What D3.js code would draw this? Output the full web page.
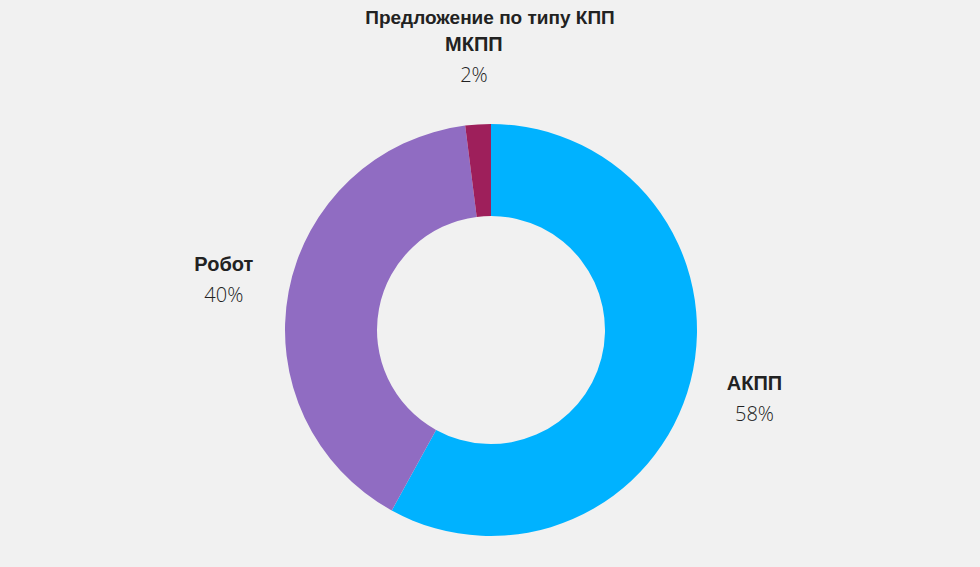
<!DOCTYPE html>
<html><head><meta charset="utf-8">
<script src="https://cdn.jsdelivr.net/npm/d3@7"></script>
<style>body{margin:0;background:#f1f1f1;}</style>
</head><body><div class="canvas"></div>
<script>
const categories = ['АКПП', 'Робот', 'МКПП'];
const shares = [58, 40, 2];
const colours = ['#00b2ff', '#906cc2', '#9e1f5b'];

const dims = { width: 980, height: 567, outer: 206, inner: 114 };
const cent = { x: 491, y: 330 };

const svg = d3.select('.canvas').append('svg')
    .attr('width', dims.width).attr('height', dims.height);

svg.append('text')
    .attr('x', dims.width / 2).attr('y', 24)
    .attr('text-anchor', 'middle')
    .style('font', 'bold 19px "Liberation Sans", Arial, sans-serif')
    .attr('fill', '#222')
    .text('Предложение по типу КПП');

const graph = svg.append('g').attr('transform', `translate(${cent.x}, ${cent.y})`);

const data = categories.map((name, i) => ({ name, value: shares[i] }));
const pie = d3.pie().sort(null).value(d => d.value);
const arcPath = d3.arc().outerRadius(dims.outer).innerRadius(dims.inner);
const labelArc = d3.arc().outerRadius(272).innerRadius(272);
const colour = d3.scaleOrdinal().domain(categories).range(colours);

graph.selectAll('path').data(pie(data)).enter()
    .append('path')
    .attr('d', arcPath)
    .attr('fill', d => colour(d.data.name));

const labels = graph.selectAll('g.lbl').data(pie(data)).enter()
    .append('g').attr('class', 'lbl')
    .attr('transform', d => `translate(${labelArc.centroid(d)})`);

labels.append('text')
    .attr('text-anchor', 'middle').attr('y', -8)
    .style('font', 'bold 20px "Liberation Sans", Arial, sans-serif')
    .attr('fill', '#222')
    .text(d => d.data.name);

labels.append('text')
    .attr('text-anchor', 'middle').attr('y', 23)
    .style('font', '300 20px "Open Sans", sans-serif')
    .attr('fill', '#222')
    .text(d => d.data.value + '%');
</script>
</body></html>
